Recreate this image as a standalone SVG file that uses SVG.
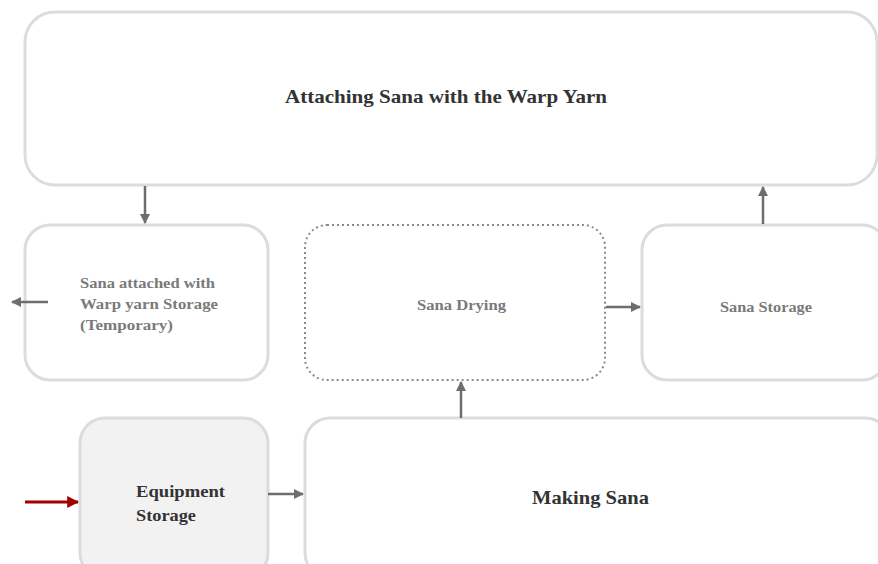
<svg xmlns="http://www.w3.org/2000/svg" width="878" height="564" viewBox="0 0 878 564">
<defs>
<marker id="ah" viewBox="0 0 10 10" refX="9" refY="5" markerWidth="4" markerHeight="4" orient="auto"><path d="M0,0 L10,5 L0,10 z" fill="#6e6e6e"/></marker>
<marker id="ahr" viewBox="0 0 10 10" refX="9" refY="5" markerWidth="4" markerHeight="4" orient="auto"><path d="M0,0 L10,5 L0,10 z" fill="#a00000"/></marker>
<style>
.box{fill:#fff;stroke:#dcdcdc;stroke-width:3}
.dot{fill:#fff;stroke:#8a8a8a;stroke-width:2;stroke-dasharray:2 3}
.gray{fill:#f2f2f2;stroke:#dcdcdc;stroke-width:3}
.t{font-family:"Liberation Serif",serif;font-weight:bold}
.big{font-size:19px;fill:#333}
.small{font-size:14px;fill:#7a7a7a}
.mid{font-size:16px;fill:#333}
.c{stroke:#6e6e6e;stroke-width:2.5;fill:none;marker-end:url(#ah)}
.r{stroke:#a00000;stroke-width:3;fill:none;marker-end:url(#ahr)}
</style>
</defs>
<rect width="878" height="564" fill="#fff"/>
<g id="attaching"><rect class="box" x="25" y="12" width="852" height="173" rx="30"/><text class="t big" x="285" y="103" textLength="322" lengthAdjust="spacingAndGlyphs">Attaching Sana with the Warp Yarn</text></g>
<g id="temp-storage"><rect class="box" x="25" y="225" width="243" height="155" rx="25"/><text class="t small" x="80" y="288" textLength="135" lengthAdjust="spacingAndGlyphs">Sana attached with</text><text class="t small" x="80" y="309" textLength="138" lengthAdjust="spacingAndGlyphs">Warp yarn Storage</text><text class="t small" x="80" y="330" textLength="93" lengthAdjust="spacingAndGlyphs">(Temporary)</text></g>
<g id="drying"><rect class="dot" x="305" y="225" width="300" height="155" rx="22"/><text class="t small" x="417" y="310" textLength="89" lengthAdjust="spacingAndGlyphs">Sana Drying</text></g>
<g id="sana-storage"><rect class="box" x="642" y="225" width="245" height="155" rx="25"/><text class="t small" x="720" y="312" textLength="92" lengthAdjust="spacingAndGlyphs">Sana Storage</text></g>
<g id="equipment"><rect class="gray" x="80" y="418" width="188" height="160" rx="25"/><text class="t mid" x="136" y="497" textLength="89" lengthAdjust="spacingAndGlyphs">Equipment</text><text class="t mid" x="136" y="521" textLength="60" lengthAdjust="spacingAndGlyphs">Storage</text></g>
<g id="making"><rect class="box" x="305" y="418" width="585" height="160" rx="25"/><text class="t big" x="532" y="504" textLength="117" lengthAdjust="spacingAndGlyphs">Making Sana</text></g>
<g id="connectors">
<line class="c" x1="145" y1="186" x2="145" y2="223"/>
<line class="c" x1="763" y1="224" x2="763" y2="187"/>
<line class="c" x1="48" y1="302" x2="12" y2="302"/>
<line class="c" x1="606" y1="307" x2="640" y2="307"/>
<line class="c" x1="461" y1="418" x2="461" y2="382"/>
<line class="c" x1="268" y1="494" x2="303" y2="494"/>
<line class="r" x1="25" y1="502" x2="78" y2="502"/>
</g>
</svg>
